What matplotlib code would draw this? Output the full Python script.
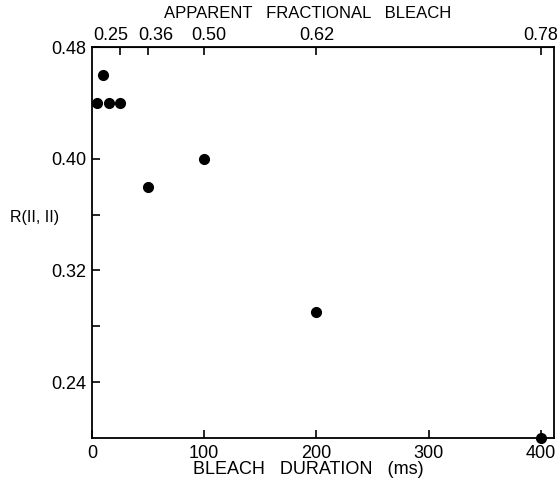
import matplotlib
matplotlib.use("Agg")
import matplotlib.pyplot as plt
import matplotlib.transforms as mtransforms

# Data
bleach_ms = [5, 10, 15, 25, 50, 100, 200, 400]
r_values = [0.44, 0.46, 0.44, 0.44, 0.38, 0.40, 0.29, 0.20]

x_ticks = [0, 100, 200, 300, 400]
y_ticks = [0.24, 0.32, 0.40, 0.48]
y_minor_ticks = [0.28, 0.36, 0.44]
y_ticklabels = ["0.24", "0.32", "0.40", "0.48"]

top_tick_pos = [25, 50, 100, 200, 400]
top_tick_labels = ["0.25", "0.36", "0.50", "0.62", "0.78"]
top_label_shift_px = [-9, 8, 5, 0, 0]

plt.rcParams['font.family'] = ['Liberation Sans', 'DejaVu Sans']

fig = plt.figure(figsize=(5.6, 4.86), dpi=100)
ax = fig.add_axes([0.164, 0.099, 0.825, 0.804])

ax.plot(bleach_ms, r_values, 'o', color='black', markersize=7, clip_on=False)

ax.set_xlim(0, 411.5)
ax.set_ylim(0.20, 0.48)
ax.set_xticks(x_ticks)
ax.set_xticklabels([str(v) for v in x_ticks])
ax.set_yticks(y_ticks)
ax.set_yticklabels(y_ticklabels)
ax.set_yticks(y_minor_ticks, minor=True)

ax.tick_params(which='both', direction='in', length=6, width=1.2, labelsize=13, pad=4)
ax.tick_params(axis='x', labelsize=13, pad=5)
for s in ax.spines.values():
    s.set_linewidth(1.3)

ax.set_xlabel("BLEACH   DURATION   (ms)", fontsize=13, va='center')
ax.xaxis.set_label_coords(0.469, -0.08)
ax.set_ylabel("R(II, II)", fontsize=11.5, rotation=0, ha='center', va='center')
ax.yaxis.set_label_coords(-0.125, 0.563)

top = ax.secondary_xaxis('top')
top.set_xticks(top_tick_pos)
top.set_xticklabels(top_tick_labels)
top.tick_params(direction='in', length=6, width=1.2, labelsize=13, pad=2.5)
top.set_xlabel("APPARENT   FRACTIONAL   BLEACH", fontsize=12, va='center')
top.xaxis.set_label_coords(0.468, 1.087, transform=ax.transAxes)

for lab, dx in zip(top.get_xticklabels(), top_label_shift_px):
    lab.set_transform(lab.get_transform() +
                      mtransforms.ScaledTranslation(dx / 100, 0, fig.dpi_scale_trans))

fig.savefig("out.png", dpi=100)
